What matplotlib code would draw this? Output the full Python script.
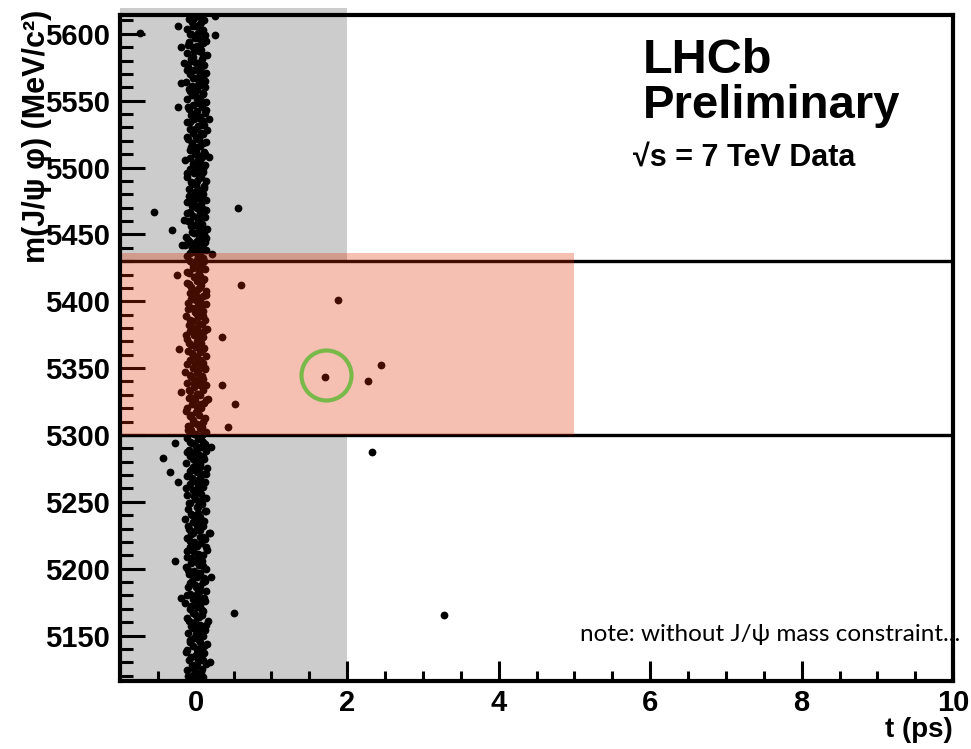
# plot.py
"""
Bs -> J/psi phi candidates: mass vs decay time, with the signal window
and the prompt region marked.
"""

import matplotlib.pyplot as plt
from matplotlib.patches import Rectangle

plt.rcParams['font.family'] = ['Liberation Sans', 'DejaVu Sans']
plt.rcParams['font.weight'] = 'bold'

# prompt candidates near t = 0: (mass MeV, time ps)
prompt_points = [
    (5117, 0.01), (5118, -0.07), (5119, 0.10), (5121, -0.02), (5122, 0.05), (5124, -0.11), (5125, 0.08), (5127, 0.00),
    (5128, -0.05), (5129, 0.13), (5131, 0.03), (5132, -0.09), (5134, 0.06), (5135, -0.01), (5137, 0.11), (5138, -0.13),
    (5140, 0.02), (5141, 0.07), (5142, -0.04), (5144, 0.15), (5145, -0.07), (5147, 0.04), (5148, -0.02), (5150, 0.09),
    (5151, 0.00), (5152, -0.10), (5154, 0.12), (5155, 0.03), (5157, -0.06), (5158, 0.06), (5160, -0.01), (5161, 0.16),
    (5163, -0.12), (5164, 0.02), (5165, 0.08), (5167, -0.04), (5168, 0.10), (5170, -0.08), (5171, 0.01), (5173, 0.05),
    (5174, -0.14), (5176, 0.12), (5177, -0.03), (5178, 0.07), (5180, 0.00), (5181, -0.07), (5183, 0.14), (5184, 0.03),
    (5186, -0.10), (5187, 0.05), (5188, -0.01), (5190, 0.09), (5191, -0.05), (5193, 0.11), (5194, 0.02), (5196, -0.09),
    (5197, 0.06), (5198, -0.02), (5200, 0.13), (5201, -0.13), (5203, 0.04), (5204, -0.06), (5206, 0.08), (5207, 0.00),
    (5209, -0.11), (5210, 0.10), (5211, 0.03), (5213, -0.04), (5214, 0.15), (5216, -0.08), (5217, 0.01), (5219, 0.07),
    (5220, -0.02), (5222, 0.12), (5223, -0.12), (5224, 0.05), (5226, -0.06), (5227, 0.17), (5229, 0.00), (5230, -0.09),
    (5232, 0.09), (5233, 0.02), (5235, -0.03), (5236, 0.11), (5237, -0.14), (5239, 0.06), (5240, -0.05), (5242, 0.03),
    (5243, 0.13), (5245, -0.10), (5246, 0.01), (5248, 0.08), (5249, -0.07), (5250, 0.04), (5252, -0.01), (5253, 0.14),
    (5255, -0.12), (5256, 0.07), (5258, 0.00), (5259, -0.04), (5261, 0.10), (5262, 0.03), (5263, -0.08), (5265, 0.12),
    (5266, -0.02), (5268, 0.05), (5269, -0.11), (5271, 0.09), (5272, 0.01), (5274, -0.06), (5275, 0.15), (5276, -0.03),
    (5278, 0.06), (5279, -0.13), (5281, 0.02), (5282, 0.11), (5284, -0.07), (5285, 0.04), (5287, -0.01), (5288, 0.13),
    (5289, -0.09), (5291, 0.07), (5292, 0.00), (5294, -0.05), (5295, 0.10), (5297, 0.03), (5298, -0.12), (5300, 0.08),
    (5301, -0.02), (5302, 0.14), (5304, -0.06), (5305, 0.05), (5307, -0.10), (5308, 0.01), (5310, 0.09), (5311, -0.03),
    (5313, 0.12), (5314, -0.08), (5315, 0.04), (5317, 0.00), (5318, -0.13), (5320, 0.07), (5321, 0.02), (5323, -0.05),
    (5324, 0.11), (5326, -0.01), (5327, 0.16), (5328, -0.09), (5330, 0.06), (5331, 0.03), (5333, -0.07), (5334, 0.10),
    (5336, -0.02), (5337, 0.13), (5339, -0.11), (5340, 0.04), (5341, 0.00), (5343, -0.06), (5344, 0.08), (5346, 0.01),
    (5347, -0.14), (5349, 0.12), (5350, -0.04), (5352, 0.06), (5353, -0.01), (5354, 0.09), (5356, -0.08), (5357, 0.03),
    (5359, 0.14), (5360, -0.03), (5362, 0.05), (5363, -0.10), (5365, 0.11), (5366, 0.00), (5367, -0.06), (5369, 0.07),
    (5370, 0.02), (5372, -0.12), (5373, 0.10), (5375, -0.02), (5376, 0.04), (5378, -0.07), (5379, 0.15), (5380, 0.01),
    (5382, -0.09), (5383, 0.08), (5385, -0.04), (5386, 0.12), (5388, 0.03), (5389, -0.13), (5391, 0.06), (5392, -0.01),
    (5393, 0.09), (5395, -0.05), (5396, 0.02), (5398, 0.13), (5399, -0.10), (5401, 0.05), (5402, -0.03), (5404, 0.10),
    (5405, 0.00), (5406, -0.08), (5408, 0.14), (5409, 0.03), (5411, -0.06), (5412, 0.07), (5414, -0.12), (5415, 0.01),
    (5417, 0.11), (5418, -0.02), (5419, 0.06), (5421, -0.09), (5422, 0.04), (5424, 0.12), (5425, -0.04), (5427, 0.00),
    (5428, 0.08), (5430, -0.07), (5431, 0.02), (5432, 0.10), (5434, -0.11), (5435, 0.05), (5437, -0.01), (5438, 0.13),
    (5440, -0.05), (5441, 0.03), (5443, 0.09), (5444, -0.08), (5445, 0.01), (5447, 0.06), (5448, -0.13), (5450, 0.11),
    (5451, -0.02), (5453, 0.04), (5454, 0.15), (5456, -0.06), (5457, 0.00), (5458, 0.08), (5460, -0.10), (5461, 0.03),
    (5463, 0.12), (5464, -0.03), (5466, 0.05), (5467, -0.08), (5469, 0.10), (5470, 0.01), (5471, -0.05), (5473, 0.07),
    (5474, -0.12), (5476, 0.13), (5477, 0.02), (5479, -0.04), (5480, 0.09), (5482, -0.01), (5483, 0.06), (5484, -0.09),
    (5486, 0.11), (5487, 0.00), (5489, -0.06), (5490, 0.14), (5492, 0.04), (5493, -0.11), (5495, 0.07), (5496, -0.02),
    (5497, 0.10), (5499, -0.07), (5500, 0.03), (5502, 0.12), (5503, -0.04), (5505, 0.01), (5506, -0.14), (5508, 0.08),
    (5509, 0.05), (5510, -0.01), (5512, 0.11), (5513, -0.08), (5515, 0.02), (5516, 0.06), (5518, -0.05), (5519, 0.13),
    (5521, -0.10), (5522, 0.04), (5523, 0.00), (5525, 0.09), (5526, -0.03), (5528, 0.15), (5529, -0.07), (5531, 0.03),
    (5532, 0.07), (5534, -0.12), (5535, 0.10), (5536, -0.02), (5538, 0.05), (5539, -0.06), (5541, 0.12), (5542, 0.01),
    (5544, -0.09), (5545, 0.08), (5547, -0.04), (5548, 0.03), (5549, 0.14), (5551, -0.11), (5552, 0.06), (5554, -0.01),
    (5555, 0.10), (5557, -0.07), (5558, 0.02), (5560, 0.12), (5561, -0.05), (5562, 0.07), (5564, -0.13), (5565, 0.04),
    (5567, 0.00), (5568, 0.09), (5570, -0.08), (5571, 0.13), (5573, -0.02), (5574, 0.05), (5575, -0.10), (5577, 0.11),
    (5578, 0.02), (5580, -0.06), (5581, 0.08), (5583, -0.03), (5584, 0.15), (5586, -0.12), (5587, 0.04), (5588, 0.07),
    (5590, -0.04), (5591, 0.01), (5593, 0.10), (5594, -0.09), (5596, 0.05), (5597, -0.01), (5599, 0.12), (5600, -0.06),
    (5601, 0.03), (5603, 0.08), (5604, -0.11), (5606, 0.00), (5607, 0.06), (5609, -0.05), (5610, 0.11), (5612, -0.02),
    (5613, 0.04),
    # edge of the prompt peak
    (5606, -0.23), (5590, -0.20), (5578, -0.16), (5563, -0.20), (5545, -0.23), (5536, 0.18), (5508, 0.18),
    (5461, -0.16), (5447, 0.13), (5442, -0.14),
]

# second layer of the prompt peak, fills the core of the column
prompt_points_core = [
    (5118, 0.04), (5120, -0.10), (5123, 0.07), (5126, -0.03), (5129, 0.02), (5132, 0.09), (5134, -0.06), (5137, 0.01),
    (5139, -0.12), (5142, 0.11), (5145, 0.05), (5147, -0.08), (5150, 0.00), (5153, 0.06), (5156, -0.04), (5158, 0.13),
    (5161, -0.09), (5164, 0.04), (5166, -0.01), (5169, 0.08), (5172, -0.06), (5175, 0.02), (5178, 0.11), (5180, -0.11),
    (5183, 0.05), (5186, 0.00), (5189, -0.07), (5191, 0.12), (5194, -0.02), (5197, 0.03), (5199, -0.10), (5202, 0.09),
    (5205, 0.01), (5208, -0.05), (5210, 0.06), (5213, -0.12), (5216, 0.14), (5218, 0.02), (5221, -0.07), (5224, 0.10),
    (5227, -0.03), (5229, 0.05), (5232, -0.10), (5235, 0.07), (5238, 0.00), (5241, -0.06), (5243, 0.12), (5246, 0.03),
    (5249, -0.09), (5251, 0.08), (5254, -0.02), (5257, 0.04), (5260, -0.13), (5263, 0.10), (5265, 0.01), (5268, -0.05),
    (5271, 0.13), (5273, -0.08), (5276, 0.06), (5279, 0.00), (5282, -0.04), (5284, 0.09), (5287, -0.11), (5290, 0.03),
    (5293, 0.12), (5295, -0.07), (5298, 0.05), (5301, 0.00), (5304, -0.10), (5306, 0.08), (5309, -0.03), (5312, 0.11),
    (5315, -0.06), (5317, 0.02), (5320, -0.12), (5323, 0.07), (5326, 0.13), (5328, -0.04), (5331, 0.01), (5334, -0.09),
    (5337, 0.06), (5339, -0.02), (5342, 0.10), (5345, -0.07), (5348, 0.03), (5350, 0.12), (5353, -0.11), (5356, 0.05),
    (5358, 0.00), (5361, -0.05), (5364, 0.09), (5367, 0.02), (5369, -0.09), (5372, 0.06), (5375, -0.13), (5378, 0.11),
    (5380, -0.03), (5383, 0.04), (5386, -0.07), (5389, 0.10), (5391, 0.00), (5394, -0.10), (5397, 0.07), (5400, 0.02),
    (5402, -0.06), (5405, 0.13), (5408, -0.02), (5411, 0.05), (5413, -0.09), (5416, 0.09), (5419, 0.01), (5422, -0.12),
    (5424, 0.06), (5427, -0.04), (5430, 0.11), (5433, 0.03), (5436, -0.08), (5438, 0.07), (5441, -0.01), (5444, 0.12),
    (5446, -0.10), (5449, 0.04), (5452, -0.05), (5455, 0.09), (5457, 0.00), (5460, -0.07), (5463, 0.06), (5466, -0.12),
    (5468, 0.13), (5471, 0.02), (5474, -0.03), (5477, 0.08), (5479, -0.09), (5482, 0.04), (5485, 0.11), (5488, -0.05),
    (5490, 0.01), (5493, 0.07), (5496, -0.11), (5499, 0.10), (5501, -0.02), (5504, 0.05), (5507, -0.08), (5510, 0.12),
    (5512, 0.00), (5515, -0.06), (5518, 0.09), (5521, 0.03), (5523, -0.12), (5526, 0.07), (5529, -0.01), (5532, 0.11),
    (5534, -0.07), (5537, 0.04), (5540, -0.03), (5543, 0.13), (5545, -0.10), (5548, 0.06), (5551, 0.01), (5554, -0.05),
    (5556, 0.09), (5559, -0.09), (5562, 0.03), (5565, 0.12), (5567, -0.04), (5570, 0.05), (5573, -0.11), (5576, 0.08),
    (5578, 0.00), (5581, -0.06), (5584, 0.10), (5587, -0.02), (5589, 0.06), (5592, -0.10), (5595, 0.13), (5598, 0.02),
    (5600, -0.07), (5603, 0.09), (5606, -0.03), (5609, 0.07), (5611, -0.09), (5614, 0.01),
]

# isolated candidates away from the prompt peak: (mass MeV, time ps)
outlier_points = [
    (5601, -0.73), (5613, 0.26), (5599, 0.26), (5467, -0.55), (5470, 0.56), (5453, -0.31), (5442, -0.18),
    (5435, 0.22), (5420, -0.25), (5412, 0.60), (5401, 1.88), (5373, 0.35), (5364, -0.22), (5337, 0.34),
    (5343, 1.71), (5352, 2.44), (5340, 2.27), (5323, 0.52), (5332, -0.19), (5306, 0.43), (5294, -0.27),
    (5287, 2.33), (5283, -0.43), (5272, -0.34), (5291, 0.20), (5265, -0.23), (5206, -0.28), (5167, 0.50),
    (5227, 0.19), (5194, 0.20), (5178, -0.20), (5130, 0.19), (5165, 3.28),
]

# highlighted candidate
circled_point = (5345, 1.72)

mass_window = (5300, 5430)      # horizontal lines
signal_box = (5300, 5436)       # shaded signal region in mass
signal_t_max = 5.0
prompt_t_max = 2.0

t_min, t_max = -1, 10
m_min, m_max = 5116, 5614

fig = plt.figure(figsize=(9.71, 7.49), dpi=100)
ax = fig.add_axes([0.1236, 0.0908, 0.858, 0.889])
ax.set_xlim(t_min, t_max)
ax.set_ylim(m_min, m_max)

# prompt (grey) region, sticks out a little above the frame
ax.add_patch(Rectangle((t_min, m_min), prompt_t_max - t_min, m_max - m_min + 5,
                       facecolor='#cccccc', lw=0, zorder=0, clip_on=False))
# white underneath the signal window
ax.add_patch(Rectangle((t_min, mass_window[0]), signal_t_max - t_min, mass_window[1] - mass_window[0],
                       facecolor='white', lw=0, zorder=1))

all_points = prompt_points + prompt_points_core + outlier_points
m_vals = [p[0] for p in all_points]
t_vals = [p[1] for p in all_points]
ax.plot(t_vals, m_vals, 'o', ms=5.6, color='black', mew=0, zorder=2)

for m in mass_window:
    ax.axhline(m, color='black', lw=2.4, zorder=3)

# translucent red signal box on top
ax.add_patch(Rectangle((t_min, signal_box[0]), signal_t_max - t_min, signal_box[1] - signal_box[0],
                       facecolor=(0.87, 0.17, 0.0), alpha=0.30, lw=0, zorder=4))

ax.plot(circled_point[1], circled_point[0], 'o', ms=36, mfc='none', mec='#79b94a', mew=3, zorder=5)

# axes styling
for side in ax.spines.values():
    side.set_linewidth(3)
    side.set_zorder(6)
ax.set_xticks([0, 2, 4, 6, 8, 10])
ax.set_xticks([x / 2 for x in range(-2, 20)], minor=True)
ax.set_yticks(range(5150, 5601, 50))
ax.set_yticks(range(5120, 5611, 10), minor=True)
ax.tick_params(which='both', direction='in', top=False, right=False, labelsize=21, width=2.2)
ax.tick_params(axis='y', which='major', length=18, pad=7)
ax.tick_params(axis='y', which='minor', length=9.5)
ax.tick_params(axis='x', which='major', length=14.5, pad=6)
ax.tick_params(axis='x', which='minor', length=7.5)
for lab in ax.get_xticklabels() + ax.get_yticklabels():
    lab.set_fontweight('bold')

# the axis title overlaps the tick labels in the original too
fig.text(0.038, 0.987, 'm(J/ψ φ) (MeV/c²)', rotation=90, ha='center', va='top',
         fontsize=22, fontweight='bold')
fig.text(0.981, 1 - 737 / 749, 't (ps)', ha='right', va='baseline', fontsize=20, fontweight='bold')

fig.text(643 / 971, 1 - 73 / 749, 'LHCb', fontsize=35, fontweight='bold', va='baseline')
fig.text(643 / 971, 1 - 118 / 749, 'Preliminary', fontsize=34, fontweight='bold', va='baseline')
fig.text(633 / 971, 1 - 166 / 749, '√s = 7 TeV Data', fontsize=22, fontweight='bold', va='baseline')
fig.text(580 / 971, 1 - 641 / 749, 'note: without J/ψ mass constraint...', fontsize=17.5,
         fontweight='normal', family=['Lato', 'DejaVu Sans'], va='baseline')

fig.savefig('out.png', dpi=100)
